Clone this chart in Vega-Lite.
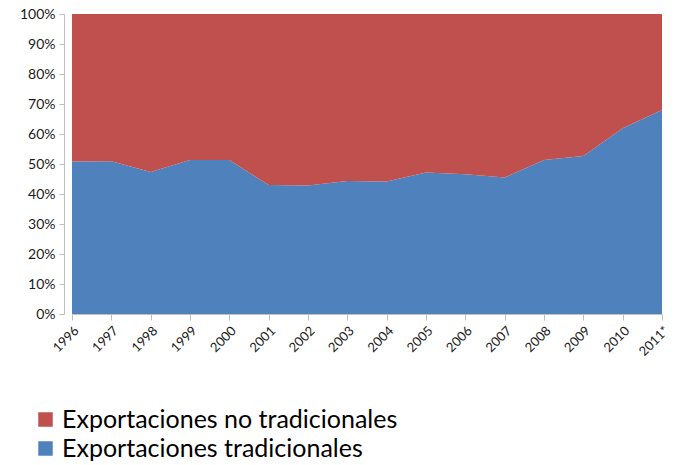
{
  "$schema": "https://vega.github.io/schema/vega-lite/v6.json",
  "autosize": {"type": "none"},
  "width": 590,
  "height": 300,
  "padding": {"left": 72, "top": 14, "right": 16, "bottom": 151},
  "background": "white",
  "config": {
    "view": {"stroke": null},
    "font": "Lato",
    "axis": {"labelFont": "Lato", "labelColor": "#1a1a1a", "domainColor": "#bfbfbf", "tickColor": "#bfbfbf", "grid": false}
  },
  "data": {
    "values": [
      {"year": "1996", "serie": "Exportaciones tradicionales", "share": 50.8},
      {"year": "1997", "serie": "Exportaciones tradicionales", "share": 50.9},
      {"year": "1998", "serie": "Exportaciones tradicionales", "share": 47.3},
      {"year": "1999", "serie": "Exportaciones tradicionales", "share": 51.3},
      {"year": "2000", "serie": "Exportaciones tradicionales", "share": 51.3},
      {"year": "2001", "serie": "Exportaciones tradicionales", "share": 43.0},
      {"year": "2002", "serie": "Exportaciones tradicionales", "share": 42.8},
      {"year": "2003", "serie": "Exportaciones tradicionales", "share": 44.3},
      {"year": "2004", "serie": "Exportaciones tradicionales", "share": 44.2},
      {"year": "2005", "serie": "Exportaciones tradicionales", "share": 47.2},
      {"year": "2006", "serie": "Exportaciones tradicionales", "share": 46.6},
      {"year": "2007", "serie": "Exportaciones tradicionales", "share": 45.5},
      {"year": "2008", "serie": "Exportaciones tradicionales", "share": 51.3},
      {"year": "2009", "serie": "Exportaciones tradicionales", "share": 52.7},
      {"year": "2010", "serie": "Exportaciones tradicionales", "share": 61.9},
      {"year": "2011*", "serie": "Exportaciones tradicionales", "share": 68.0},
      {"year": "1996", "serie": "Exportaciones no tradicionales", "share": 49.2},
      {"year": "1997", "serie": "Exportaciones no tradicionales", "share": 49.1},
      {"year": "1998", "serie": "Exportaciones no tradicionales", "share": 52.7},
      {"year": "1999", "serie": "Exportaciones no tradicionales", "share": 48.7},
      {"year": "2000", "serie": "Exportaciones no tradicionales", "share": 48.7},
      {"year": "2001", "serie": "Exportaciones no tradicionales", "share": 57.0},
      {"year": "2002", "serie": "Exportaciones no tradicionales", "share": 57.2},
      {"year": "2003", "serie": "Exportaciones no tradicionales", "share": 55.7},
      {"year": "2004", "serie": "Exportaciones no tradicionales", "share": 55.8},
      {"year": "2005", "serie": "Exportaciones no tradicionales", "share": 52.8},
      {"year": "2006", "serie": "Exportaciones no tradicionales", "share": 53.4},
      {"year": "2007", "serie": "Exportaciones no tradicionales", "share": 54.5},
      {"year": "2008", "serie": "Exportaciones no tradicionales", "share": 48.7},
      {"year": "2009", "serie": "Exportaciones no tradicionales", "share": 47.3},
      {"year": "2010", "serie": "Exportaciones no tradicionales", "share": 38.1},
      {"year": "2011*", "serie": "Exportaciones no tradicionales", "share": 32.0}
    ]
  },
  "mark": {"type": "area", "interpolate": "linear", "opacity": 1},
  "encoding": {
    "x": {
      "field": "year",
      "type": "ordinal",
      "scale": {"type": "point", "padding": 0},
      "axis": {"title": null, "labelAngle": -45, "labelFontSize": 13, "tickSize": 6, "labelPadding": 4}
    },
    "y": {
      "field": "share",
      "type": "quantitative",
      "stack": "normalize",
      "scale": {"domain": [0, 1]},
      "axis": {"title": null, "format": ".0%", "values": [0, 0.1, 0.2, 0.3, 0.4, 0.5, 0.6, 0.7, 0.8, 0.9, 1], "labelFontSize": 14, "offset": 8, "tickSize": 5, "labelPadding": 4}
    },
    "color": {
      "field": "serie",
      "type": "nominal",
      "scale": {"domain": ["Exportaciones no tradicionales", "Exportaciones tradicionales"], "range": ["#C0504D", "#4F81BD"]},
      "legend": {
        "title": null,
        "orient": "none",
        "legendX": -39,
        "legendY": 393,
        "symbolType": "square",
        "symbolSize": 210,
        "symbolStrokeWidth": 0,
        "labelFontSize": 25,
        "labelColor": "#000000",
        "labelLimit": 500,
        "labelOffset": 4,
        "rowPadding": 3
      }
    },
    "order": {"field": "serie", "type": "nominal", "sort": "descending"}
  }
}
